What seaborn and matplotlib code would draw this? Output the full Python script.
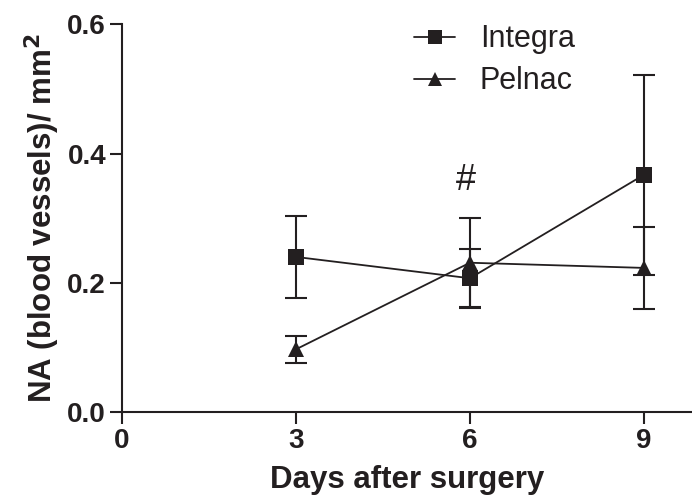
import matplotlib
matplotlib.use("Agg")
import matplotlib.pyplot as plt
import seaborn as sns
import pandas as pd
import numpy as np
from matplotlib.lines import Line2D

days = [3, 6, 9]
integra_mean = [0.240, 0.207, 0.367]
integra_err = [0.064, 0.046, 0.155]
pelnac_mean = [0.097, 0.231, 0.223]
pelnac_err = [0.021, 0.069, 0.064]
series_names = ["Integra", "Pelnac"]
x_ticks = [0, 3, 6, 9]
y_ticks = [0.0, 0.2, 0.4, 0.6]

sns.set_theme(style="ticks")
plt.rcParams['font.family'] = ['Liberation Sans', 'DejaVu Sans']

ink = "#231f20"

df = pd.DataFrame({
    "day": days * 2,
    "value": integra_mean + pelnac_mean,
    "err": integra_err + pelnac_err,
    "series": [series_names[0]] * 3 + [series_names[1]] * 3,
})

fig = plt.figure(figsize=(6.92, 5.03), dpi=100)
ax = fig.add_axes([122 / 692, 1 - 412 / 503, 1 - 122 / 692, (412 - 24.3) / 503])

markers = {"Integra": "s", "Pelnac": "^"}
for name in series_names:
    sub = df[df["series"] == name]
    ax.errorbar(sub["day"], sub["value"], yerr=sub["err"], fmt="none",
                ecolor=ink, elinewidth=1.5, capsize=8, capthick=1.5, zorder=2)

sns.lineplot(data=df, x="day", y="value", hue="series", style="series",
             markers=markers, dashes=False, palette={n: ink for n in series_names},
             linewidth=1.3, markersize=11, markeredgewidth=0, ax=ax, zorder=3,
             legend=False)

handles = [Line2D([], [], color=ink, lw=1.3, marker=markers[n], markersize=10,
                  markeredgewidth=0) for n in series_names]
leg = ax.legend(handles, series_names, loc="upper left", bbox_to_anchor=(0.464, 1.071),
                frameon=False, fontsize=22, handlelength=1.35, handletextpad=0.8,
                labelspacing=0.4)
for t in leg.get_texts():
    t.set_color(ink)

ax.text(5.93, 0.359, "#", ha="center", va="center", fontsize=26, color=ink)

ax.set_xlim(0, 9.83)
ax.set_ylim(0, 0.6)
ax.set_xticks(x_ticks)
ax.set_yticks(y_ticks)
ax.set_yticklabels([f"{v:.1f}" for v in y_ticks])
ax.set_xticklabels([str(v) for v in x_ticks])
for lab in ax.get_xticklabels() + ax.get_yticklabels():
    lab.set_fontweight("bold")
    lab.set_color(ink)
ax.tick_params(axis="both", labelsize=20, length=8.5, width=1.5, color=ink, pad=3)

ax.set_xlabel("Days after surgery", fontsize=22.5, fontweight="bold", color=ink, labelpad=8)
ax.set_ylabel("NA (blood vessels)/ mm$^\\mathbf{2}$", fontsize=22.5, fontweight="bold",
              color=ink, labelpad=4)

sns.despine(ax=ax)
for s in ["left", "bottom"]:
    ax.spines[s].set_linewidth(1.5)
    ax.spines[s].set_color(ink)

fig.savefig("out.png", dpi=100)
